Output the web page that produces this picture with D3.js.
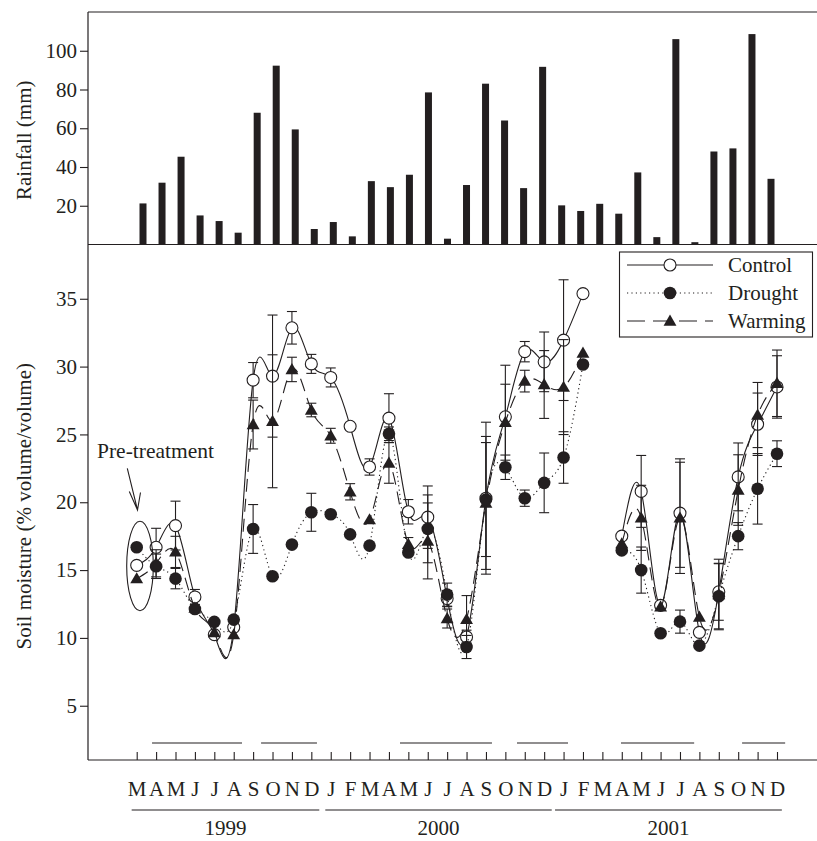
<!DOCTYPE html>
<html>
<head>
<meta charset="utf-8">
<script src="https://cdn.jsdelivr.net/npm/d3@7"></script>
<style>
  html, body { margin: 0; padding: 0; background: #fff; }
  svg { display: block; }
  text { font-family: "Liberation Serif", "Times New Roman", Times, "DejaVu Serif", serif; fill: #231f20; }
</style>
</head>
<body>
<script>
// ---------------- DATA ----------------
const months = ["M","A","M","J","J","A","S","O","N","D",
                "J","F","M","A","M","J","J","A","S","O","N","D",
                "J","F","M","A","M","J","J","A","S","O","N","D"];
const years = ["1999", "2000", "2001"];
// month-index extents of the year underlines
const yearSpans = [[-0.26, 9.41], [9.72, 21.39], [21.56, 33.25]];

// monthly rainfall (mm), Mar 1999 - Dec 2001
const rainfall = [21.2, 31.9, 45.3, 15.0, 12.1, 6.1, 68.0, 92.3, 59.4, 8.0,
                  11.6, 4.2, 32.7, 29.6, 36.0, 78.5, 3.0, 30.7, 83.0, 64.0, 29.1, 91.7,
                  20.2, 17.3, 21.0, 15.9, 37.2, 3.8, 106.0, 1.2, 48.0, 49.6, 108.6, 33.9];
const rainTicks = [20, 40, 60, 80, 100];

// soil moisture (% volume/volume)
const control = [15.35, 16.68, 18.28, 13.02, 10.24, 10.78, 29.0, 29.3, 32.86, 30.2,
                 29.2, 25.6, 22.6, 26.2, 19.3, 18.9, 12.9, 10.07, 20.3, 26.3, 31.1, 30.35,
                 31.95, 35.38, null, 17.5, 20.8, 12.4, 19.2, 10.41, 13.4, 21.87, 25.75, 28.5];
const drought = [16.68, 15.28, 14.37, 12.13, 11.18, 11.35, 18.03, 14.54, 16.88, 19.26,
                 19.12, 17.63, 16.8, 25.05, 16.3, 18.04, 13.19, 9.33, 20.2, 22.58, 20.3, 21.43,
                 23.3, 30.15, null, 16.45, 15.0, 10.34, 11.2, 9.43, 13.07, 17.5, 20.99, 23.58];
const warming = [14.37, 15.5, 16.34, 12.2, 10.4, 10.24, 25.73, 25.97, 29.79, 26.8,
                 24.9, 20.77, 18.72, 22.9, 16.9, 17.15, 11.43, 11.37, 19.95, 25.9, 28.93, 28.68,
                 28.49, 31.0, null, 16.95, 18.85, 12.3, 18.85, 11.54, 13.2, 20.9, 26.43, 28.77];
// standard errors
const errControl = [0, 1.4, 1.8, 0.55, 0.3, 0.3, 1.3, 4.5, 1.2, 0.7,
                    0.7, 0.3, 0.6, 1.8, 0.9, 2.3, 0.6, 0.5, 5.6, 3.8, 0.75, 2.2,
                    4.45, 0, null, 0.4, 2.65, 0.3, 4.0, 0.3, 2.1, 2.5, 2.3, 2.3];
const errDrought = [0, 0.9, 0.75, 0.4, 0.3, 0.3, 1.8, 0, 0.3, 1.4,
                    0.3, 0.3, 0.3, 0.5, 0.4, 2.5, 0.85, 0.85, 4.2, 0.9, 0.6, 2.2,
                    1.9, 0, null, 0.4, 1.7, 0.3, 0.85, 0.3, 2.4, 1.0, 2.6, 0.95];
const errWarming = [0, 1.0, 1.15, 0.4, 0.3, 0.3, 1.8, 4.9, 0.9, 0.5,
                    0.55, 0.6, 0.4, 1.5, 0.5, 2.8, 0.7, 1.75, 4.9, 2.8, 0.8, 2.5,
                    3.5, 0, null, 0.4, 2.4, 0.3, 4.1, 0.3, 2.6, 2.6, 2.4, 2.45];
const moistTicks = [5, 10, 15, 20, 25, 30, 35];
const seriesNames = ["Control", "Drought", "Warming"];

// treatment periods (month-index extents)
const treatments = [[0.79, 5.43], [6.41, 9.29], [13.57, 18.31], [19.6, 22.23], [24.96, 28.73], [31.2, 33.42]];

// ---------------- LAYOUT ----------------
const W = 817, H = 841;
const left = 88, right = 817;
const topY0 = 12, panelSplit = 244.5, axisY = 760;
const ink = "#231f20";
const FS = 21;

const svg = d3.select("body").append("svg").attr("width", W).attr("height", H);
svg.append("rect").attr("width", W).attr("height", H).attr("fill", "#fff");

const idx = d3.range(months.length);
const xTop = d3.scaleLinear().domain([0, 33]).range([143, 771]);
const xBot = d3.scaleLinear().domain([0, 33]).range([136.7, 777]);
const yTop = d3.scaleLinear().domain([0, 120]).range([panelSplit, topY0]);
const yBot = d3.scaleLinear().domain([1, 39]).range([axisY, panelSplit]);

// ---------- top panel: rainfall ----------
svg.append("g").selectAll("rect").data(rainfall).join("rect")
  .attr("x", (d, i) => xTop(i) - 3.5)
  .attr("width", 7)
  .attr("y", d => yTop(d))
  .attr("height", d => yTop(0) - yTop(d))
  .attr("fill", ink);

// frame lines
svg.append("line").attr("x1", left).attr("x2", right).attr("y1", topY0).attr("y2", topY0)
  .attr("stroke", ink).attr("stroke-width", 1.2);
svg.append("line").attr("x1", left).attr("x2", left).attr("y1", topY0).attr("y2", axisY)
  .attr("stroke", ink).attr("stroke-width", 1.2);
svg.append("line").attr("x1", left).attr("x2", right).attr("y1", panelSplit).attr("y2", panelSplit)
  .attr("stroke", ink).attr("stroke-width", 1.2);
svg.append("line").attr("x1", left).attr("x2", right).attr("y1", axisY).attr("y2", axisY)
  .attr("stroke", ink).attr("stroke-width", 1.2);

const yAxTop = svg.append("g").attr("transform", `translate(${left},0)`)
  .call(d3.axisLeft(yTop).tickValues(rainTicks).tickSize(8).tickPadding(3));
const yAxBot = svg.append("g").attr("transform", `translate(${left},0)`)
  .call(d3.axisLeft(yBot).tickValues(moistTicks).tickSize(8).tickPadding(3));
[yAxTop, yAxBot].forEach(g => {
  g.attr("font-family", null);
  g.select(".domain").remove();
  g.selectAll(".tick line").attr("stroke", ink).attr("stroke-width", 1.1);
  g.selectAll(".tick text").attr("font-size", FS).attr("fill", ink);
});

// x axis (month ticks pointing up)
const xAx = svg.append("g").attr("transform", `translate(0,${axisY})`)
  .call(d3.axisBottom(xBot).tickValues(idx).tickFormat(i => months[i]).tickSizeInner(-8).tickSizeOuter(0).tickPadding(21));
xAx.attr("font-family", null);
xAx.select(".domain").remove();
xAx.selectAll(".tick line").attr("stroke", ink).attr("stroke-width", 1.1);
xAx.selectAll(".tick text").attr("font-size", FS).attr("fill", ink);

// year underlines and labels
yearSpans.forEach((s, k) => {
  svg.append("line").attr("x1", xBot(s[0])).attr("x2", xBot(s[1])).attr("y1", 810).attr("y2", 810)
    .attr("stroke", ink).attr("stroke-width", 1.1);
  svg.append("text").attr("x", (xBot(s[0]) + xBot(s[1])) / 2).attr("y", 835)
    .attr("text-anchor", "middle").attr("font-size", FS).text(years[k]);
});

// treatment period bars
svg.append("g").selectAll("line").data(treatments).join("line")
  .attr("x1", d => xBot(d[0])).attr("x2", d => xBot(d[1]))
  .attr("y1", 743).attr("y2", 743)
  .attr("stroke", ink).attr("stroke-width", 1.1);

// axis titles
svg.append("text").attr("transform", `translate(31,${(topY0 + panelSplit) / 2 + 12}) rotate(-90)`)
  .attr("text-anchor", "middle").attr("font-size", FS).text("Rainfall (mm)");
svg.append("text").attr("transform", `translate(31,${(panelSplit + axisY) / 2 + 4}) rotate(-90)`)
  .attr("text-anchor", "middle").attr("font-size", FS).text("Soil moisture (% volume/volume)");

// ---------- bottom panel: soil moisture ----------
const series = [
  { name: seriesNames[0], vals: control, err: errControl, dash: null, legendDash: null, marker: "openCircle" },
  { name: seriesNames[1], vals: drought, err: errDrought, dash: "1.2,3.2", legendDash: "1.2,3.2", marker: "filledCircle" },
  { name: seriesNames[2], vals: warming, err: errWarming, dash: "13,7", legendDash: "18,8", marker: "triangle" }
];

const line = d3.line()
  .defined(d => d.v != null)
  .x(d => xBot(d.i)).y(d => yBot(d.v))
  .curve(d3.curveNatural);

const tri = d3.symbol().type(d3.symbolTriangle).size(72);

function drawMarker(g, type, x, y) {
  if (type === "openCircle") {
    g.append("circle").attr("cx", x).attr("cy", y).attr("r", 6)
      .attr("fill", "#fff").attr("stroke", ink).attr("stroke-width", 1.1);
  } else if (type === "filledCircle") {
    g.append("circle").attr("cx", x).attr("cy", y).attr("r", 6.3).attr("fill", ink);
  } else {
    g.append("path").attr("d", tri()).attr("transform", `translate(${x},${y + 1})`).attr("fill", ink);
  }
}

series.forEach(s => {
  const g = svg.append("g");
  const pts = idx.map(i => ({ i, v: s.vals[i], e: s.err[i] }));
  // error bars
  pts.filter(p => p.v != null && p.e > 0.45).forEach(p => {
    const x = xBot(p.i), y1 = yBot(p.v - p.e), y2 = yBot(p.v + p.e);
    g.append("line").attr("x1", x).attr("x2", x).attr("y1", y1).attr("y2", y2)
      .attr("stroke", ink).attr("stroke-width", 1.1);
    [y1, y2].forEach(yy => g.append("line").attr("x1", x - 5).attr("x2", x + 5)
      .attr("y1", yy).attr("y2", yy).attr("stroke", ink).attr("stroke-width", 1.1));
  });
  // curve
  g.append("path").datum(pts).attr("d", line)
    .attr("fill", "none").attr("stroke", ink).attr("stroke-width", 1.1)
    .attr("stroke-dasharray", s.dash);
  // markers
  pts.filter(p => p.v != null).forEach(p => drawMarker(g, s.marker, xBot(p.i), yBot(p.v)));
});

// pre-treatment annotation
svg.append("ellipse").attr("cx", xBot(0) + 3.3).attr("cy", yBot(15.3))
  .attr("rx", 13.3).attr("ry", yBot(12) - yBot(15.3))
  .attr("fill", "none").attr("stroke", ink).attr("stroke-width", 1.1);
svg.append("text").attr("x", 97).attr("y", 458).attr("font-size", 21.5).text("Pre-treatment");
const tip = [137.5, 510];
svg.append("path")
  .attr("d", `M127.3,468.3L${tip[0]},${tip[1]}M129.3,491.5L${tip[0]},${tip[1]}L140.5,492.5`)
  .attr("fill", "none").attr("stroke", ink).attr("stroke-width", 1.1);

// legend
const lg = svg.append("g");
lg.append("rect").attr("x", 619.5).attr("y", 252).attr("width", 193).attr("height", 85)
  .attr("fill", "#fff").attr("stroke", ink).attr("stroke-width", 1.1);
series.forEach((s, k) => {
  const yy = 265 + k * 28;
  lg.append("line").attr("x1", 627).attr("x2", 713).attr("y1", yy).attr("y2", yy)
    .attr("stroke", ink).attr("stroke-width", 1.1).attr("stroke-dasharray", s.legendDash);
  drawMarker(lg, s.marker, 670, yy);
  lg.append("text").attr("x", 728).attr("y", yy).attr("dy", "0.33em").attr("font-size", FS).text(s.name);
});
</script>
</body>
</html>
